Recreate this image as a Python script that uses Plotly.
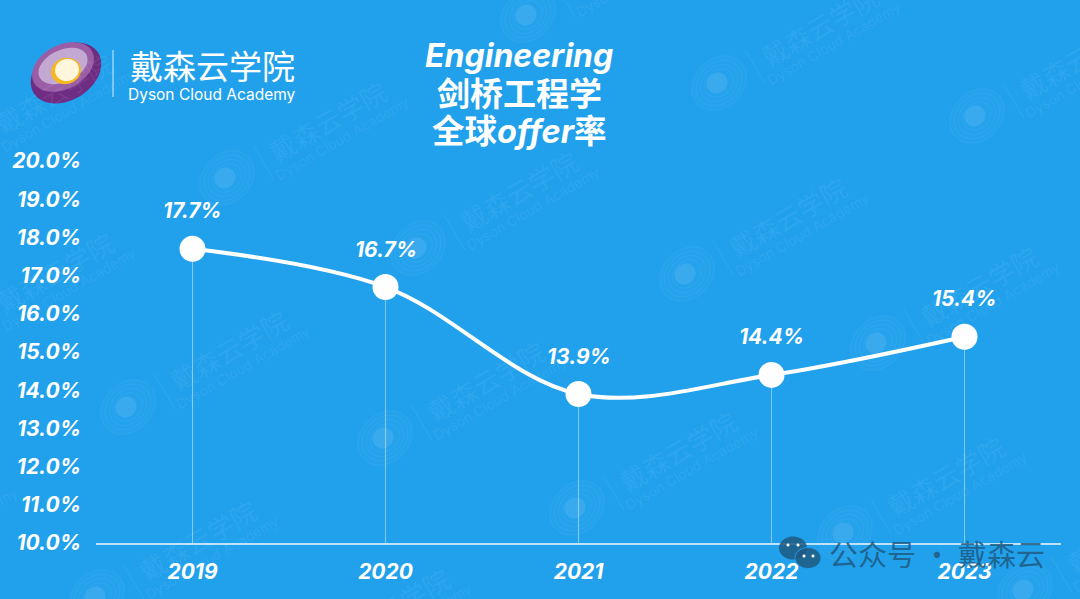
import numpy as np
import plotly.graph_objects as go

# Plot area in pixels, everything decorative is placed relative to it
W, H = 1080, 599
LEFT, RIGHT, TOP, BOTTOM = 96, 1061, 161, 543

years = ["2019", "2020", "2021", "2022", "2023"]
rates = [17.7, 16.7, 13.9, 14.4, 15.4]

FONT = "Inter, 'Noto Sans CJK SC', sans-serif"
CJK = "'Noto Sans CJK SC', sans-serif"
BG = "#21A1EC"

# Watermark logo centres as seen in the picture
wm_logos = [(719, 83), (977, 116), (227, 178), (418, 248), (687, 274), (878, 343),
            (128, 407), (385, 438), (577, 508), (845, 533), (97, 597), (528, 15),
            (-47, 150), (-46, 329), (-164, 569), (290, 665), (1025, 590)]


def px(x):
    return (x - LEFT) / (RIGHT - LEFT)


def py(y):
    return (BOTTOM - y) / (BOTTOM - TOP)


def ellipse_path(cx, cy, a, b, angle):
    """SVG path of a rotated ellipse, pixel inputs, paper coordinates out."""
    t = np.linspace(0, 2 * np.pi, 60)
    r = np.radians(angle)
    xs = cx + a * np.cos(t) * np.cos(r) - b * np.sin(t) * np.sin(r)
    ys = cy - a * np.cos(t) * np.sin(r) - b * np.sin(t) * np.cos(r)
    pts = [f"{px(x):.5f},{py(y):.5f}" for x, y in zip(xs, ys)]
    return "M" + " L".join(pts) + " Z"


def ellipse(cx, cy, a, b, angle, fill="rgba(0,0,0,0)", line=None, lw=0):
    return dict(type="path", xref="paper", yref="paper", path=ellipse_path(cx, cy, a, b, angle),
                fillcolor=fill, line=dict(color=line or "rgba(0,0,0,0)", width=lw), layer="below")


def seg(x0, y0, x1, y1, color, width):
    return dict(type="line", xref="paper", yref="paper", x0=px(x0), y0=py(y0), x1=px(x1), y1=py(y1),
                line=dict(color=color, width=width), layer="below")


def label(x, y, text, size, color="white", family=FONT, angle=0, bold=False):
    if bold:
        text = f"<b>{text}</b>"
    return dict(xref="paper", yref="paper", x=px(x), y=py(y), text=text, showarrow=False,
                xanchor="center", yanchor="middle", textangle=angle,
                font=dict(size=size, color=color, family=family))


shapes = []
annotations = []

# Watermark grid
for cx, cy in wm_logos:
    shapes.append(ellipse(cx, cy, 30, 24, 45, fill="rgba(255,255,255,0.02)"))
    for k in (1.0, 0.84, 0.68, 0.52):
        shapes.append(ellipse(cx, cy, 30 * k, 24 * k, 45, line="rgba(255,255,255,0.05)", lw=1))
    shapes.append(ellipse(cx - 2, cy, 11, 10, 45, fill="rgba(255,255,255,0.09)"))
    shapes.append(seg(cx + 26, cy - 33, cx + 47, cy + 2, "rgba(255,255,255,0.07)", 1))
    annotations.append(label(cx + 100, cy - 58, "戴森云学院", 26, "rgba(255,255,255,0.07)", CJK, -30))
    annotations.append(label(cx + 114, cy - 40, "Dyson Cloud Academy", 14, "rgba(255,255,255,0.08)", FONT, -30))

# Logo top left
shapes.append(ellipse(66, 73, 38, 27, 32, fill="#6E2C83"))
shapes.append(ellipse(63, 67, 33, 22, 28, fill="#9A5EA6"))
shapes.append(ellipse(63, 66, 26, 16, 25, fill="#C3A9D2"))
shapes.append(ellipse(66, 71, 15, 13, 15, fill="#F6B81A"))
shapes.append(ellipse(67, 70, 12, 11, 15, fill="#FFF6DC"))
shapes.append(seg(113, 50, 113, 97, "rgba(255,255,255,0.8)", 1))
annotations.append(label(212, 65, "戴森云学院", 33, family=CJK))
annotations.append(label(212, 94, "Dyson Cloud Academy", 15.5))

# Title
annotations.append(label(519, 55, "<i>Engineering</i>", 32, bold=True))
annotations.append(label(519, 92, "剑桥工程学", 33, family=CJK, bold=True))
annotations.append(label(519, 131, "全球<i>offer</i>率", 32.5, bold=True))

# Value labels sit above each point
for i, v in enumerate(rates):
    annotations.append(dict(x=i, y=v, xref="x", yref="y", yshift=38, text=f"<b><i>{v:.1f}%</i></b>",
                            showarrow=False, font=dict(size=21, color="white", family=FONT)))

# WeChat stamp on top of the chart
stamp = "rgba(30,90,130,0.85)"
top_shapes = [
    ellipse(793, 548, 14, 11.5, 0, fill=stamp),
    ellipse(808, 558, 13, 10.5, 0, fill=stamp, line=BG, lw=1),
    ellipse(788, 545, 1.5, 1.5, 0, fill="white"),
    ellipse(798, 545, 1.5, 1.5, 0, fill="white"),
    ellipse(804, 556, 1.5, 1.5, 0, fill="white"),
    ellipse(813, 556, 1.5, 1.5, 0, fill="white"),
]
for s in top_shapes:
    s["layer"] = "above"
annotations.append(label(937, 553, "公众号 · 戴森云", 29, stamp, CJK))

fig = go.Figure()
fig.add_trace(go.Scatter(
    x=years, y=rates,
    mode="lines+markers",
    line=dict(color="white", width=4, shape="spline", smoothing=1),
    marker=dict(size=26, color="white"),
    # Thin drop line from each point down to the axis
    error_y=dict(type="data", symmetric=False, array=[0] * 5,
                 arrayminus=[v - 10 for v in rates],
                 color="rgba(255,255,255,0.45)", thickness=1, width=0),
    cliponaxis=False,
    showlegend=False,
))

fig.update_layout(
    width=W, height=H,
    margin=dict(l=LEFT, r=W - RIGHT, t=TOP, b=H - BOTTOM, pad=0),
    paper_bgcolor=BG, plot_bgcolor=BG,
    shapes=shapes + top_shapes,
    annotations=annotations,
    font=dict(family=FONT, color="white"),
    xaxis=dict(
        type="category", range=[-0.5, 4.5], showgrid=False, zeroline=False,
        showline=True, linecolor="rgba(255,255,255,0.7)", linewidth=1.5, ticks="",
        tickfont=dict(size=21, color="white", family=FONT),
        tickvals=years, ticktext=[f"<b><i>{y}</i></b>" for y in years],
        ticklabelstandoff=9,
    ),
    yaxis=dict(
        range=[10, 20], dtick=1, showgrid=False, zeroline=False, showline=False, ticks="",
        tickformat=".1f", ticksuffix="%",
        tickprefix="<b><i>",
        tickfont=dict(size=21, color="white", family=FONT),
        ticklabelstandoff=14,
    ),
)

fig.write_html("out.html", config=dict(displayModeBar=False),
               post_script="document.body.style.margin='0';")
